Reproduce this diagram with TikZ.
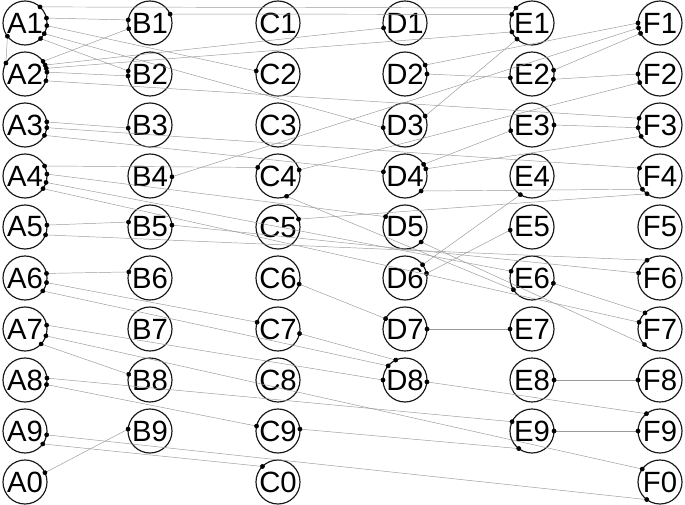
\documentclass[tikz,border=0pt]{standalone}
\usepackage{fontspec}
\setmainfont{Liberation Sans}
\usetikzlibrary{arrows.meta}

\begin{document}
\begin{tikzpicture}[x=0.03cm, y=-0.03cm,
	vtx/.style={circle, draw=black!90, line width=1pt, minimum size=1.32cm,
	            inner sep=0pt, outer sep=0pt, font=\fontsize{25}{25}\selectfont},
	link/.style={draw=black!40, line width=0.4pt,
	             {Circle[length=4pt, color=black]}-{Circle[length=4pt, color=black]},
	             shorten <=-2pt, shorten >=-2pt}
	]
\useasboundingbox (0,0) rectangle (685,504);

% Knoten, sechs Spalten
\foreach \i [count=\r] in {1,2,3,4,5,6,7,8,9,0} {
	\node[vtx] (A\i) at (25,{23+51*(\r-1)}) {A\i};
	\node[vtx] (C\i) at (278,{23+51*(\r-1)}) {C\i};
	\node[vtx] (F\i) at (660,{23+51*(\r-1)}) {F\i};
}
\foreach \i in {1,...,9} {
	\node[vtx] (B\i) at (150,{23+51*(\i-1)}) {B\i};
	\node[vtx] (E\i) at (532,{23+51*(\i-1)}) {E\i};
}
\foreach \i in {1,...,8}
	\node[vtx] (D\i) at (405,{23+51*(\i-1)}) {D\i};

% Verbindungen ab A1/A2
\draw[link] (A1.217) -- (A2.150);
\draw[link] (A1.47) -- (E1.137);
\draw[link] (B1.24) -- (E1.157);
\draw[link] (A1.13) -- (B1.172);
\draw[link] (A2.35) -- (B1.195);
\draw[link] (A1.315) -- (B2.172);
\draw[link] (A2.5) -- (B2.185);
\draw[link] (A2.24) -- (D1.193);
\draw[link] (A2.15) -- (E1.204);
\draw[link] (A1.353) -- (C2.172);
\draw[link] (A1.331) -- (D3.187);
\draw[link] (A2.342) -- (F3.162);

% obere rechte Haelfte
\draw[link] (B4.358) -- (F1.193);
\draw[link] (D2.24) -- (F1.180);
\draw[link] (D2.0) -- (E2.190);
\draw[link] (E2.10) -- (F1.208);
\draw[link] (E2.346) -- (F2.180);
\draw[link] (D3.24) -- (E1.227);
\draw[link] (D4.32) -- (E3.195);
\draw[link] (C4.16) -- (F2.203);
\draw[link] (E3.0) -- (F3.187);
\draw[link] (D6.37) -- (E4.238);
\draw[link] (D6.12) -- (E5.188);
\draw[link] (D4.19) -- (F3.211);

% ab A3 bis A5
\draw[link] (A3.8) -- (B3.188);
\draw[link] (A3.353) -- (F4.159);
\draw[link] (A3.332) -- (D4.169);
\draw[link] (A4.27) -- (C4.157);
\draw[link] (A4.5) -- (D5.152);
\draw[link] (A4.343) -- (E6.162);
\draw[link] (A4.325) -- (F7.162);
\draw[link] (A5.5) -- (B5.167);
\draw[link] (A5.339) -- (F6.126);
\draw[link] (B5.5) -- (F6.167);
\draw[link] (C4.293) -- (E6.212);
\draw[link] (C5.21) -- (F4.234);
\draw[link] (D4.317) -- (F4.217);
\draw[link] (D5.317) -- (F7.225);
\draw[link] (E6.346) -- (F7.133);

% ab A6 bis A0
\draw[link] (A6.12) -- (B6.164);
\draw[link] (A6.348) -- (C7.162);
\draw[link] (A6.324) -- (D8.140);
\draw[link] (C6.344) -- (D7.152);
\draw[link] (C7.348) -- (D8.115);
\draw[link] (D7.0) -- (E7.180);
\draw[link] (A7.10) -- (D8.180);
\draw[link] (A7.342) -- (F0.144);
\draw[link] (A7.317) -- (B8.165);
\draw[link] (A8.5) -- (E9.155);
\draw[link] (A8.348) -- (C9.167);
\draw[link] (D8.355) -- (F9.128);
\draw[link] (E8.0) -- (F8.180);
\draw[link] (E9.0) -- (F9.180);
\draw[link] (C9.5) -- (E9.233);
\draw[link] (A9.350) -- (F0.233);
\draw[link] (A9.324) -- (C0.135);
\draw[link] (A0.25) -- (B9.175);

\end{tikzpicture}
\end{document}
